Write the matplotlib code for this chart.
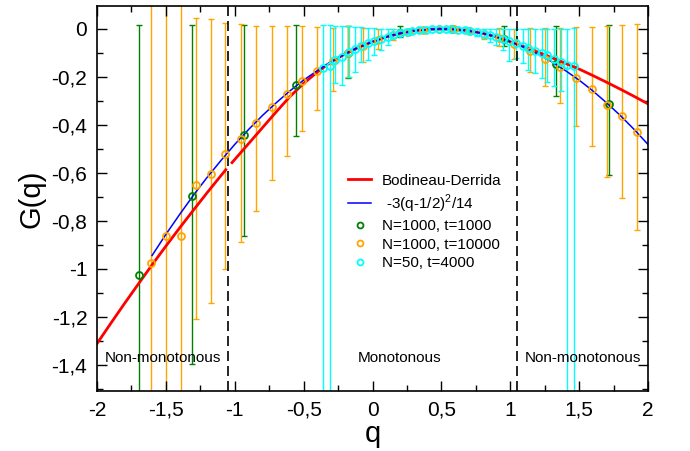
import numpy as np
import matplotlib
matplotlib.use("Agg")
import matplotlib.pyplot as plt
from matplotlib.ticker import MultipleLocator, FuncFormatter

plt.rcParams['font.family'] = ['Liberation Sans', 'DejaVu Sans']
plt.rcParams['mathtext.fontset'] = 'custom'
plt.rcParams['mathtext.rm'] = 'Liberation Sans'

nan = float('nan')

# Bodineau-Derrida curve (broken at the left transition)
red_q = [-2.0, -1.9, -1.8, -1.7, -1.6, -1.5, -1.4, -1.3, -1.2, -1.1, -1.065, nan,
         -1.02, -0.9, -0.8, -0.7, -0.6, -0.5, -0.4, -0.3, -0.2, -0.1, 0.0, 0.1, 0.2,
         0.3, 0.4, 0.5, 0.6, 0.7, 0.8, 0.9, 1.0, 1.1, 1.2, 1.3, 1.4, 1.5, 1.6, 1.7,
         1.8, 1.9, 2.0]
red_g = [-1.3125, -1.228, -1.145, -1.064, -0.984, -0.906, -0.830, -0.756, -0.683, -0.612, -0.5875, nan,
         -0.558, -0.479, -0.413, -0.347, -0.283, -0.228, -0.180, -0.138, -0.105, -0.077, -0.054, -0.034, -0.019,
         -0.0086, -0.0021, 0.0, -0.0021, -0.0086, -0.019, -0.034, -0.054, -0.075, -0.097, -0.120, -0.144, -0.168, -0.195, -0.223,
         -0.252, -0.282, -0.313]

# -3(q-1/2)^2/14
blue_q = [-1.6, -1.5, -1.4, -1.3, -1.2, -1.1, -1.0, -0.9, -0.8, -0.7, -0.6, -0.5, -0.4,
          -0.3, -0.2, -0.1, 0.0, 0.1, 0.2, 0.3, 0.4, 0.5, 0.6, 0.7, 0.8, 0.9, 1.0,
          1.1, 1.2, 1.3, 1.4, 1.5, 1.6, 1.7, 1.8, 1.9, 2.0]
blue_g = [-0.945, -0.857, -0.774, -0.694, -0.619, -0.549, -0.482, -0.420, -0.362, -0.309, -0.259, -0.214, -0.174,
          -0.137, -0.105, -0.077, -0.054, -0.034, -0.019, -0.0086, -0.0021, 0.0, -0.0021, -0.0086, -0.019, -0.034, -0.054,
          -0.077, -0.105, -0.137, -0.174, -0.214, -0.259, -0.309, -0.362, -0.420, -0.482]

# N=1000, t=1000
green_q = [-1.693, -1.312, -0.933, -0.558, -0.176, 0.20, 0.579, 0.955, 1.332, 1.714]
green_g = [-1.028, -0.697, -0.442, -0.233, -0.099, -0.018, 0.0, -0.043, -0.147, -0.314]
green_lo = [3.0, 0.70, 0.423, 0.216, 0.106, 0.017, 0.010, 0.028, 0.132, 0.294]
green_hi = [1.045, 0.711, 0.459, 0.247, 0.112, 0.030, 0.012, 0.055, 0.160, 0.328]

# N=1000, t=10000
orange_q = [-1.61, -1.50, -1.39, -1.28, -1.17, -1.07, -0.955, -0.846, -0.732, -0.621, -0.51,
            -0.40, -0.289, -0.18, -0.07, 0.04, 0.15, 0.26, 0.37, 0.48, 0.59, 0.70, 0.81,
            0.92, 1.03, 1.14, 1.25, 1.36, 1.48, 1.59, 1.70, 1.81, 1.92]
orange_g = [-0.975, -0.865, -0.865, -0.653, -0.604, -0.521, -0.460, -0.392, -0.324, -0.272, -0.219,
            -0.174, -0.133, -0.099, -0.070, -0.045, -0.026, -0.012, -0.004, 0.0, -0.002, -0.009, -0.021,
            -0.038, -0.064, -0.094, -0.126, -0.161, -0.207, -0.251, -0.317, -0.3625, -0.432]
orange_lo = [3.0, 3.0, 3.0, 0.555, 0.539, 0.479, 0.430, 0.366, 0.305, 0.260, 0.209,
             0.166, 0.125, 0.10, 0.07, 0.04, 0.02, 0.012, 0.008, 0.005, 0.006, 0.010, 0.020,
             0.035, 0.060, 0.085, 0.114, 0.149, 0.197, 0.239, 0.301, 0.345, 0.405]
orange_hi = [1.3, 1.2, 1.2, 0.70, 0.643, 0.547, 0.481, 0.402, 0.336, 0.285, 0.229,
             0.181, 0.138, 0.11, 0.075, 0.045, 0.025, 0.013, 0.008, 0.005, 0.006, 0.010, 0.022,
             0.040, 0.065, 0.097, 0.129, 0.164, 0.214, 0.258, 0.330, 0.38, 0.452]

# N=50, t=4000
cyan_q = [-0.36, -0.31, -0.27, -0.22, -0.17, -0.13, -0.08, -0.03, 0.01, 0.06, 0.11, 0.15, 0.20,
          0.25, 0.29, 0.34, 0.39, 0.43, 0.48, 0.53, 0.57, 0.62, 0.67, 0.71, 0.76, 0.81, 0.85,
          0.90, 0.95, 0.99, 1.04, 1.09, 1.13, 1.18, 1.23, 1.27, 1.32, 1.37, 1.41, 1.46]
cyan_g = [-0.165, -0.155, -0.130, -0.117, -0.096, -0.085, -0.072, -0.060, -0.051, -0.041, -0.033, -0.026, -0.019,
          -0.013, -0.009, -0.005, -0.003, -0.001, 0.0, 0.0, -0.001, -0.003, -0.006, -0.009, -0.014, -0.021, -0.026,
          -0.034, -0.043, -0.051, -0.060, -0.071, -0.081, -0.092, -0.101, -0.111, -0.126, -0.139, -0.150, -0.157]
cyan_lo = [3.0, 3.0, 0.095, 0.116, 0.104, 0.095, 0.068, 0.070, 0.057, 0.046, 0.034, 0.012, 0.012,
           0.010, 0.010, 0.008, 0.006, 0.005, 0.004, 0.004, 0.005, 0.006, 0.008, 0.010, 0.014, 0.018, 0.027,
           0.035, 0.045, 0.085, 0.060, 0.072, 0.089, 0.093, 0.104, 0.109, 0.114, 0.121, 3.0, 3.0]
cyan_hi = [0.18, 0.17, 0.14, 0.127, 0.106, 0.093, 0.078, 0.065, 0.055, 0.041, 0.033, 0.026, 0.020,
           0.013, 0.010, 0.008, 0.006, 0.005, 0.004, 0.004, 0.005, 0.006, 0.008, 0.010, 0.014, 0.020, 0.026,
           0.034, 0.043, 0.051, 0.060, 0.071, 0.081, 0.092, 0.101, 0.111, 0.126, 0.139, 0.15, 0.16]

transitions = [-1.05, 1.05]
regions = [(-1.52, "Non-monotonous"), (0.2, "Monotonous"), (1.53, "Non-monotonous")]

fig = plt.figure(figsize=(6.9, 4.51), dpi=100)
ax = fig.add_axes([97 / 690, 1 - 391 / 451, 551 / 690, 385 / 451])

# error bars first, below everything else
for q, g, lo, hi, c in [(green_q, green_g, green_lo, green_hi, 'green'),
                        (orange_q, orange_g, orange_lo, orange_hi, 'orange'),
                        (cyan_q, cyan_g, cyan_lo, cyan_hi, 'cyan')]:
    ax.errorbar(q, g, yerr=[lo, hi], fmt='none', ecolor=c, elinewidth=1.0,
                capsize=2, capthick=1.0, zorder=1)

ax.plot(red_q, red_g, color='red', lw=2.0, label='Bodineau-Derrida', zorder=2)
ax.plot(blue_q, blue_g, color='blue', lw=1.1, label=' -3(q-1/2)$^{2}$/14', zorder=2.1)

ax.plot(green_q, green_g, 'o', mfc='none', mec='green', mew=1.3, ms=5,
        label='N=1000, t=1000', zorder=3)
ax.plot(orange_q, orange_g, 'o', mfc='none', mec='orange', mew=1.3, ms=5,
        label='N=1000, t=10000', zorder=3.1)
ax.plot(cyan_q, cyan_g, 'o', mfc='none', mec='cyan', mew=1.3, ms=5,
        label='N=50, t=4000', zorder=3.2)

for xq in transitions:
    ax.axvline(xq, color='black', lw=1.2, ls=(0, (6, 3)), zorder=1.5)

for xq, txt in regions:
    ax.text(xq, -1.371, txt, ha='center', va='center', fontsize=11)

ax.set_xlim(-2, 2)
ax.set_ylim(-1.51, 0.095)
ax.xaxis.set_major_locator(MultipleLocator(0.5))
ax.xaxis.set_minor_locator(MultipleLocator(0.25))
ax.yaxis.set_major_locator(MultipleLocator(0.2))
ax.yaxis.set_minor_locator(MultipleLocator(0.1))

comma = FuncFormatter(lambda v, p: ('%g' % round(v, 2)).replace('.', ','))
ax.xaxis.set_major_formatter(comma)
ax.yaxis.set_major_formatter(comma)

ax.tick_params(which='both', direction='in', top=True, right=True, width=1.0)
ax.tick_params(which='major', length=7, labelsize=15, pad=7)
ax.tick_params(which='minor', length=4)
for s in ax.spines.values():
    s.set_linewidth(1.2)

ax.set_xlabel('q', fontsize=21, labelpad=0)
ax.set_ylabel('G(q)', fontsize=21, labelpad=4)

ax.legend(loc='upper left', bbox_to_anchor=(0.505, 0.615), bbox_transform=fig.transFigure,
          frameon=False, fontsize=11, handlelength=1.5, handletextpad=0.7,
          labelspacing=0.3, borderpad=0, borderaxespad=0, markerscale=0.85)

fig.savefig('out.png', dpi=100)
